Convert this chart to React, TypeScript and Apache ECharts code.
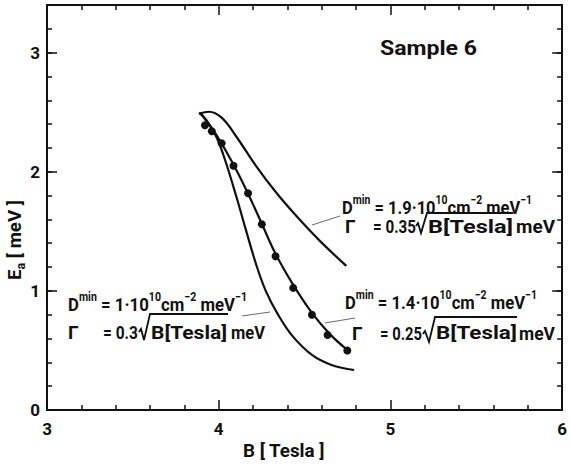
import React, { useEffect, useRef } from 'react';
import * as echarts from 'echarts';

// ---------- data ----------
// Curve for D^min = 1.9e10, Gamma = 0.35 sqrt(B)
const upperB = [3.886, 3.943, 4.017, 4.103, 4.217, 4.331, 4.446, 4.589, 4.743];
const upperE = [2.487, 2.504, 2.454, 2.294, 2.05, 1.832, 1.639, 1.42, 1.21];
// Curve for D^min = 1.4e10, Gamma = 0.25 sqrt(B) (fit through the points)
const middleB = [3.891, 3.931, 3.989, 4.074, 4.16, 4.246, 4.331, 4.434, 4.543, 4.646, 4.749];
const middleE = [2.496, 2.42, 2.303, 2.092, 1.849, 1.58, 1.311, 1.05, 0.815, 0.639, 0.504];
// Curve for D^min = 1e10, Gamma = 0.3 sqrt(B)
const lowerB = [3.886, 3.931, 3.989, 4.046, 4.103, 4.16, 4.217, 4.274, 4.343, 4.429, 4.543, 4.657, 4.789];
const lowerE = [2.496, 2.429, 2.286, 2.059, 1.79, 1.504, 1.227, 1.0, 0.807, 0.622, 0.462, 0.378, 0.336];
// Measured points
const dotB = [3.92, 3.96, 4.017, 4.086, 4.171, 4.251, 4.331, 4.434, 4.543, 4.634, 4.749];
const dotE = [2.39, 2.34, 2.24, 2.05, 1.82, 1.56, 1.29, 1.025, 0.8, 0.63, 0.5];

const xTickLabels = ['3', '4', '5', '6'];
const yTickLabels = ['0', '1', '2', '3'];

const densityValues = ['1.9', '1.4', '1'];
const gammaValues = ['0.35', '0.25', '0.3'];
const sampleTitle = 'Sample 6';

// ---------- layout / styles ----------
const INK = '#111';
const FONT_FAMILY = 'Roboto, "DejaVu Sans", sans-serif';
const GRID = { left: 47, top: 5, width: 522, height: 405 };

const annLayouts = [
  { l1x: 342, l1y: 207, l1w: 190, gx: 345, gy: 226, eqx: 373, eqw: 43,
    rad: [[416, 226], [418, 223], [421, 233], [427, 213], [513, 213]], bx: 428, bw: 85, mx: 516, mw: 39,
    lead: [312, 225, 340, 216] },
  { l1x: 345, l1y: 302, l1w: 192, gx: 352, gy: 333, eqx: 380, eqw: 42,
    rad: [[423, 334], [425, 331], [429, 342], [435, 317], [517, 317]], bx: 436, bw: 81, mx: 519, mw: 36,
    lead: [325, 323, 355, 318] },
  { l1x: 68, l1y: 304, l1w: 179, gx: 68, gy: 332, eqx: 103, eqw: 35,
    rad: [[139, 332], [141, 329], [144, 340], [150, 314], [228, 314]], bx: 151, bw: 76, mx: 231, mw: 34,
    lead: [242, 316, 270, 312] },
];

let measureCtx: CanvasRenderingContext2D | null = null;
function textWidth(t: string, size: number, weight = 'bold') {
  if (!measureCtx) measureCtx = document.createElement('canvas').getContext('2d');
  if (!measureCtx) return t.length * size * 0.55;
  measureCtx.font = `${weight} ${size}px ${FONT_FAMILY}`;
  return measureCtx.measureText(t).width;
}

const BASE = 19;
const SUP = 12;

function plainText(text: string, x: number, y: number, size: number, target?: number, extra: any = {}) {
  const w = textWidth(text, size);
  const sx = target ? target / w : 1;
  return {
    type: 'text', x, y, scaleX: sx, z: 100,
    style: { text, fontSize: size, fontWeight: 'bold', fontFamily: FONT_FAMILY, fill: INK, align: 'left', verticalAlign: 'middle', ...extra },
  };
}

function densityLine(value: string, x: number, y: number, target: number) {
  const segs: [string, 'b' | 's'][] = [
    ['D', 'b'], ['min', 's'], [' = ' + value + '·10', 'b'], ['10', 's'], ['cm', 'b'], ['−2', 's'], [' meV', 'b'], ['−1', 's'],
  ];
  let w = 0;
  segs.forEach(([t, k]) => { w += textWidth(t, k === 'b' ? BASE : SUP); });
  const text = segs.map(([t, k]) => `{${k}|${t}}`).join('');
  return {
    type: 'text', x, y, scaleX: target / w, z: 100,
    style: {
      text, fill: INK, align: 'left', verticalAlign: 'middle', fontFamily: FONT_FAMILY,
      rich: {
        b: { fontSize: BASE, fontWeight: 'bold', fontFamily: FONT_FAMILY, lineHeight: 26, fill: INK },
        s: { fontSize: SUP, fontWeight: 'bold', fontFamily: FONT_FAMILY, verticalAlign: 'top', fill: INK },
      },
    },
  };
}

function buildGraphics() {
  const g: any[] = [];
  annLayouts.forEach((L, i) => {
    g.push(densityLine(densityValues[i], L.l1x, L.l1y, L.l1w));
    g.push(plainText('Γ', L.gx, L.gy, BASE));
    g.push(plainText('= ' + gammaValues[i], L.eqx, L.gy, BASE, L.eqw));
    g.push({ type: 'polyline', z: 100, shape: { points: L.rad }, style: { stroke: INK, lineWidth: 1.8, fill: null } });
    g.push(plainText('B[Tesla]', L.bx, L.gy, BASE, L.bw));
    g.push(plainText('meV', L.mx, L.gy, BASE, L.mw));
    g.push({ type: 'line', z: 100, shape: { x1: L.lead[0], y1: L.lead[1], x2: L.lead[2], y2: L.lead[3] }, style: { stroke: '#444', lineWidth: 0.8 } });
  });
  g.push(plainText(sampleTitle, 380, 48, 20, 97));
  g.push(plainText('B [ Tesla ]', 243, 451, 18, 82));
  // y axis name, rotated
  const yText = '{b|E}{a|a}{b| [ meV ]}';
  const yw = textWidth('E', 18) + textWidth('a', 12) + textWidth(' [ meV ]', 18);
  g.push({
    type: 'text', x: 15, y: 240, rotation: Math.PI / 2, scaleX: 80 / yw, z: 100,
    style: {
      text: yText, align: 'center', verticalAlign: 'middle', fill: INK,
      rich: {
        b: { fontSize: 18, fontWeight: 'bold', fontFamily: FONT_FAMILY, lineHeight: 24, fill: INK },
        a: { fontSize: 12, fontWeight: 'bold', fontFamily: FONT_FAMILY, verticalAlign: 'bottom', fill: INK },
      },
    },
  });
  return g;
}

function intLabel(labels: string[], offset: number) {
  return (v: number) => {
    const r = Math.round(v);
    if (Math.abs(v - r) > 1e-6) return '';
    return labels[r - offset] ?? '';
  };
}

const axisLine = { show: true, onZero: false, lineStyle: { color: INK, width: 2 } };
const tickStyle = { color: INK, width: 1.5 };
const labelStyle = { fontSize: 17, fontWeight: 'bold', color: INK, fontFamily: FONT_FAMILY };

function buildOption() {
  const xCommon = {
    type: 'value', min: 3, max: 6, interval: 1, splitLine: { show: false },
    axisTick: { show: true, inside: true, length: 10, lineStyle: tickStyle },
    minorTick: { show: true, splitNumber: 5, length: 5, lineStyle: tickStyle },
    axisLine,
  };
  const yMinor = {
    type: 'value', min: 0, max: 3.4, interval: 0.2, splitLine: { show: false },
    axisTick: { show: true, inside: true, length: 5, lineStyle: tickStyle },
  };
  const yMajor = {
    type: 'value', min: 0, max: 3.4, interval: 1, splitLine: { show: false },
    axisTick: { show: true, inside: true, length: 10, lineStyle: tickStyle },
    axisLine: { show: false }, axisLabel: { show: false },
  };
  const lineSeries = (bs: number[], es: number[]) => ({
    type: 'line', xAxisIndex: 0, yAxisIndex: 0,
    data: bs.map((b, i) => [b, es[i]]),
    smooth: 0.4, showSymbol: false, symbol: 'none',
    lineStyle: { color: INK, width: 2.2 }, z: 3,
  });
  return {
    animation: false,
    backgroundColor: '#fff',
    grid: { ...GRID, containLabel: false },
    xAxis: [
      { ...xCommon, position: 'bottom', axisLabel: { ...labelStyle, margin: 10, formatter: intLabel(xTickLabels, 3) } },
      { ...xCommon, position: 'top', axisLabel: { show: false } },
    ],
    yAxis: [
      { ...yMinor, position: 'left', axisLine, axisLabel: { ...labelStyle, margin: 7, formatter: intLabel(yTickLabels, 0) } },
      { ...yMajor, position: 'left' },
      { ...yMinor, position: 'right', axisLine, axisLabel: { show: false } },
      { ...yMajor, position: 'right' },
    ],
    series: [
      lineSeries(upperB, upperE),
      lineSeries(middleB, middleE),
      lineSeries(lowerB, lowerE),
      {
        type: 'scatter', xAxisIndex: 0, yAxisIndex: 0,
        data: dotB.map((b, i) => [b, dotE[i]]),
        symbol: 'circle', symbolSize: 8, itemStyle: { color: INK, opacity: 1 }, z: 4,
      },
    ],
    graphic: buildGraphics(),
  };
}

export default function App() {
  const ref = useRef<HTMLDivElement>(null);
  useEffect(() => {
    if (!ref.current) return;
    const chart = echarts.init(ref.current, null, { renderer: 'svg' });
    chart.setOption(buildOption() as any);
    return () => chart.dispose();
  }, []);
  return (
    <div
      ref={ref}
      style={{ position: 'absolute', left: 0, top: 0, width: 570, height: 464, background: '#fff' }}
    />
  );
}
